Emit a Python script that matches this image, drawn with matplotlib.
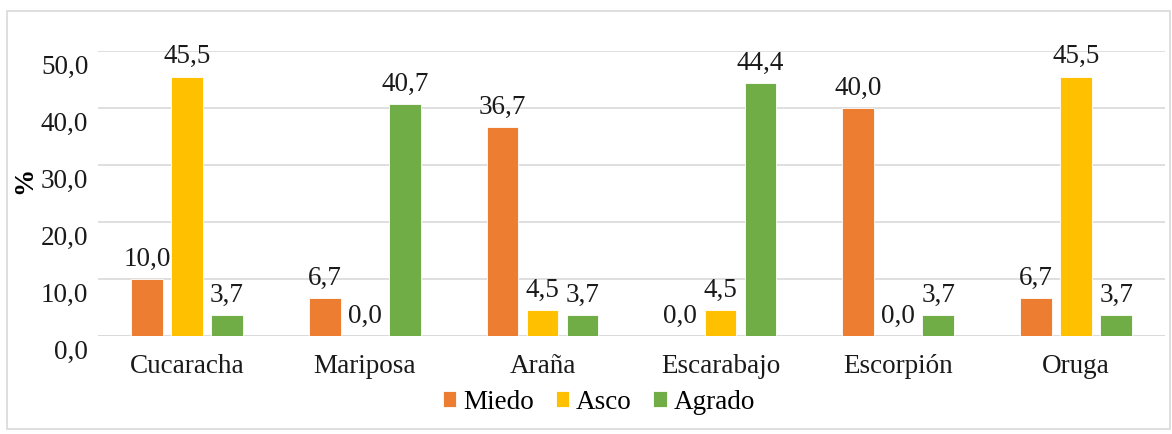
import numpy as np
import matplotlib.pyplot as plt
import matplotlib.transforms as mtransforms
from matplotlib.patches import Rectangle

categorias = ['Cucaracha', 'Mariposa', 'Araña', 'Escarabajo', 'Escorpión', 'Oruga']
miedo = [10.0, 6.7, 36.7, 0.0, 40.0, 6.7]
asco = [45.5, 0.0, 4.5, 4.5, 0.0, 45.5]
agrado = [3.7, 40.7, 3.7, 44.4, 3.7, 3.7]
y_ticks = [0, 10, 20, 30, 40, 50]

plt.rcParams['font.family'] = ['Liberation Serif', 'DejaVu Serif']
fs = 19.5

fig = plt.figure(figsize=(11.72, 4.35), dpi=100)
ax = fig.add_axes([98/1172, 1 - 337/435, (1165 - 98)/1172, (337 - 52)/435])

x = np.arange(len(categorias))
w = 0.178
step = 0.225
series = [(miedo, '#ED7D31', 'Miedo'), (asco, '#FFC000', 'Asco'), (agrado, '#70AD47', 'Agrado')]
for i, (vals, col, lab) in enumerate(series):
    pos = x + (i - 1)*step
    ax.bar(pos, vals, width=w, color=col, label=lab, edgecolor='white', linewidth=0.6, zorder=3)
    for p, v in zip(pos, vals):
        ax.annotate(f'{v:.1f}'.replace('.', ','), (p, v), xytext=(0, 6), textcoords='offset points',
                    ha='center', va='bottom', fontsize=fs, color='#1a1a1a')

ax.set_xlim(-0.5, len(categorias) - 0.5)
ax.set_ylim(0, 50)
ax.set_yticks(y_ticks)
ax.set_yticklabels([f'{t:.1f}'.replace('.', ',') for t in y_ticks], fontsize=fs, color='#1a1a1a')
ax.set_xticks(x)
ax.set_xticklabels(categorias, fontsize=fs, color='#1a1a1a')
ax.tick_params(axis='both', length=0)
ax.tick_params(axis='x', pad=12)
ax.tick_params(axis='y', pad=7)
shift = mtransforms.ScaledTranslation(0, -12/100, fig.dpi_scale_trans)
for t in ax.get_yticklabels():
    t.set_transform(t.get_transform() + shift)

ax.grid(axis='y', color='#D9D9D9', linewidth=1.2, zorder=0)
for s in ax.spines.values():
    s.set_visible(False)
ax.axhline(0, color='#D9D9D9', linewidth=1.2, zorder=1)

fig.text(25/1172, 1 - 180/435, '%', rotation=90, fontsize=fs, fontweight='bold',
         ha='center', va='center')

ax.legend(loc='center', bbox_to_anchor=(599/1172, 1 - 403/435), bbox_transform=fig.transFigure,
          ncol=3, frameon=False, fontsize=fs, handlelength=0.5, handleheight=0.5,
          handletextpad=0.25, columnspacing=0.8)

fig.patches.append(Rectangle((7/1172, 1 - 430/435), (1170 - 7)/1172, (430 - 12)/435,
                             transform=fig.transFigure, fill=False, edgecolor='#D9D9D9', linewidth=1.2))

plt.savefig('out.png', dpi=100)
